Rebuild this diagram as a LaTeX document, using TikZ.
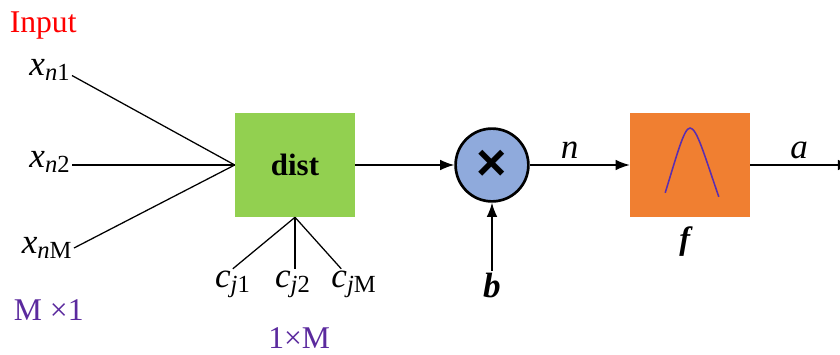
\documentclass[tikz,border=0pt]{standalone}
\usepackage{fontspec}
\setmainfont{Liberation Serif}
\newfontfamily\crossfont{Liberation Sans}
\usetikzlibrary{arrows.meta}

\definecolor{distgreen}{HTML}{92D050}
\definecolor{multblue}{HTML}{8FAADC}
\definecolor{transorange}{HTML}{F07F31}
\definecolor{dimpurple}{HTML}{5B2A9E}
\definecolor{bellpurple}{HTML}{5A2DB0}

\tikzset{
	label text/.style={inner sep=1pt, font=\fontsize{25}{29}\selectfont},
	dim text/.style={inner sep=0pt, anchor=base, text=dimpurple, font=\fontsize{22.5}{26}\selectfont},
	block/.style={minimum width=3cm, minimum height=2.6cm, inner sep=0pt},
	wire/.style={line width=0.9pt},
	flow/.style={line width=0.9pt, -{Latex[length=10pt,width=7.5pt]}}
}

\begin{document}
\begin{tikzpicture}

	\useasboundingbox (0,0) rectangle (21,8.85);

	% Blocks
	\node[block, fill=distgreen] (dist) at (7.375,4.725) {\fontsize{22}{26}\selectfont\textbf{dist}};
	\node[circle, draw, line width=1.9pt, fill=multblue, minimum size=1.82cm, inner sep=0pt] (mult) at (12.3,4.725)
		{\fontsize{37}{37}\selectfont\crossfont\textbf{×}};
	\node[block, fill=transorange] (trans) at (17.25,4.725) {};

	% Inputs
	\node[label text, anchor=east] (xa) at (1.8,7.1) {\textit{x}\textsubscript{\textit{n}1}};
	\node[label text, anchor=east] (xb) at (1.8,4.8) {\textit{x}\textsubscript{\textit{n}2}};
	\node[label text, anchor=east] (xc) at (1.85,2.65) {\textit{x}\textsubscript{\textit{n}M}};
	\node[inner sep=1pt, text=red, font=\fontsize{22.5}{26}\selectfont] (input) at (1.08,8.2) {Input};
	\node[dim text] (dimx) at (1.22,0.85) {M ×1};

	\draw[wire] (xa.-14) -- (dist.west);
	\draw[wire] (xb.east |- dist.west) -- (dist.west);
	\draw[wire] (xc.east) -- (dist.west);

	% Centres
	\node[label text] (ca) at (5.82,1.75) {\textit{c}\textsubscript{\textit{j}1}};
	\node[label text] (cb) at (7.32,1.75) {\textit{c}\textsubscript{\textit{j}2}};
	\node[label text] (cc) at (8.85,1.75) {\textit{c}\textsubscript{\textit{j}M}};
	\node[dim text] (dimc) at (7.48,0.14) {1×M};

	\draw[wire] (ca.north) -- (dist.south);
	\draw[wire] (cb.north -| dist.south) -- (dist.south);
	\draw[wire] (cc.130) -- (dist.south);

	% Signal path
	\node[label text] (bias) at (12.3,1.72) {\textbf{\textit{b}}};
	\coordinate (out) at (21.3,4.725);

	\draw[flow] (dist.east) -- (mult.west);
	\draw[flow] (bias.north) -- (mult.south);
	\draw[flow] (mult.east) -- node[label text, pos=0.4, above=3pt] (nlabel) {\textit{n}} (trans.west);
	\draw[flow] (trans.east) -- node[label text, pos=0.48, above=3pt] (alabel) {\textit{a}} (out);

	\node[inner sep=1pt, font=\fontsize{23}{27}\selectfont] (flabel) at (17.15,2.8) {\textbf{\textit{f}}};

	% Bell
	\draw[bellpurple, line width=1.1pt] (16.63,4.03) .. controls (16.93,5.0) and (17.1,5.65) .. (17.25,5.65)
		.. controls (17.42,5.65) and (17.6,5.0) .. (17.97,3.93);

\end{tikzpicture}
\end{document}
